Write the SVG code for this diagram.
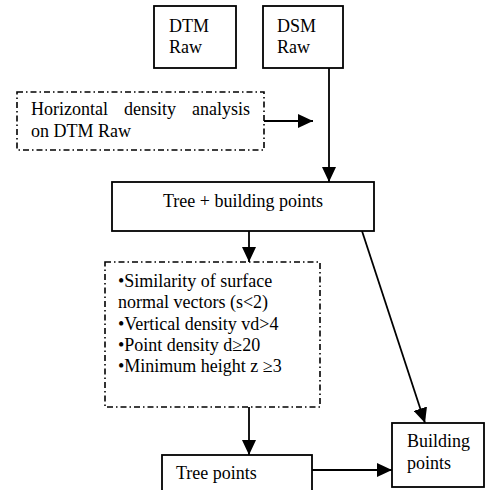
<svg xmlns="http://www.w3.org/2000/svg" width="486" height="490" viewBox="0 0 486 490">
<defs>
<marker id="ah" markerUnits="userSpaceOnUse" markerWidth="16" markerHeight="14" refX="15" refY="7" orient="auto">
<path d="M0,0 L15,7 L0,14 Z" fill="#000"/>
</marker>
<style>
.box{fill:#fff;stroke:#000;stroke-width:1.8}
.dd{fill:#fff;stroke:#000;stroke-width:1.6;stroke-dasharray:6 3 1.5 3}
.t{font-family:"Liberation Serif","Times New Roman",serif;font-size:18px;fill:#000}
.c{stroke:#000;stroke-width:1.8;fill:none}
</style>
</defs>
<rect width="486" height="490" fill="#fff"/>
<g id="connectors">
<line class="c" x1="329" y1="68" x2="329" y2="182" marker-end="url(#ah)"/>
<line class="c" x1="264" y1="121" x2="313" y2="121" marker-end="url(#ah)"/>
<line class="c" x1="249" y1="231" x2="249" y2="262" marker-end="url(#ah)"/>
<line class="c" x1="362" y1="231" x2="425" y2="423" marker-end="url(#ah)"/>
<line class="c" x1="249" y1="407" x2="249" y2="455" marker-end="url(#ah)"/>
<line class="c" x1="312" y1="470" x2="392" y2="470" marker-end="url(#ah)"/>
</g>
<g id="dtm-raw">
<rect class="box" x="154" y="6" width="82" height="62"/>
<text class="t" x="169" y="32">DTM</text>
<text class="t" x="169" y="53">Raw</text>
</g>
<g id="dsm-raw">
<rect class="box" x="263" y="6" width="80" height="62"/>
<text class="t" x="277" y="32">DSM</text>
<text class="t" x="277" y="53">Raw</text>
</g>
<g id="horizontal-density">
<rect class="dd" x="17" y="92" width="247" height="58"/>
<text class="t" x="31" y="115">Horizontal</text>
<text class="t" x="124" y="115">density</text>
<text class="t" x="250" y="115" text-anchor="end">analysis</text>
<text class="t" x="31" y="137">on DTM Raw</text>
</g>
<g id="tree-building">
<rect class="box" x="112" y="182" width="262" height="49"/>
<text class="t" x="243" y="207" text-anchor="middle">Tree + building points</text>
</g>
<g id="criteria">
<rect class="dd" x="105" y="262" width="215" height="145"/>
<text class="t" x="118" y="287">•Similarity of surface</text>
<text class="t" x="118" y="308">normal vectors (s&lt;2)</text>
<text class="t" x="118" y="330">•Vertical density vd&gt;4</text>
<text class="t" x="118" y="351">•Point density d≥20</text>
<text class="t" x="118" y="372">•Minimum height z ≥3</text>
</g>
<g id="tree-points">
<rect class="box" x="162" y="455" width="150" height="40"/>
<text class="t" x="176" y="479">Tree points</text>
</g>
<g id="building-points">
<rect class="box" x="392" y="423" width="92" height="64"/>
<text class="t" x="407" y="447">Building</text>
<text class="t" x="407" y="469">points</text>
</g>
</svg>
